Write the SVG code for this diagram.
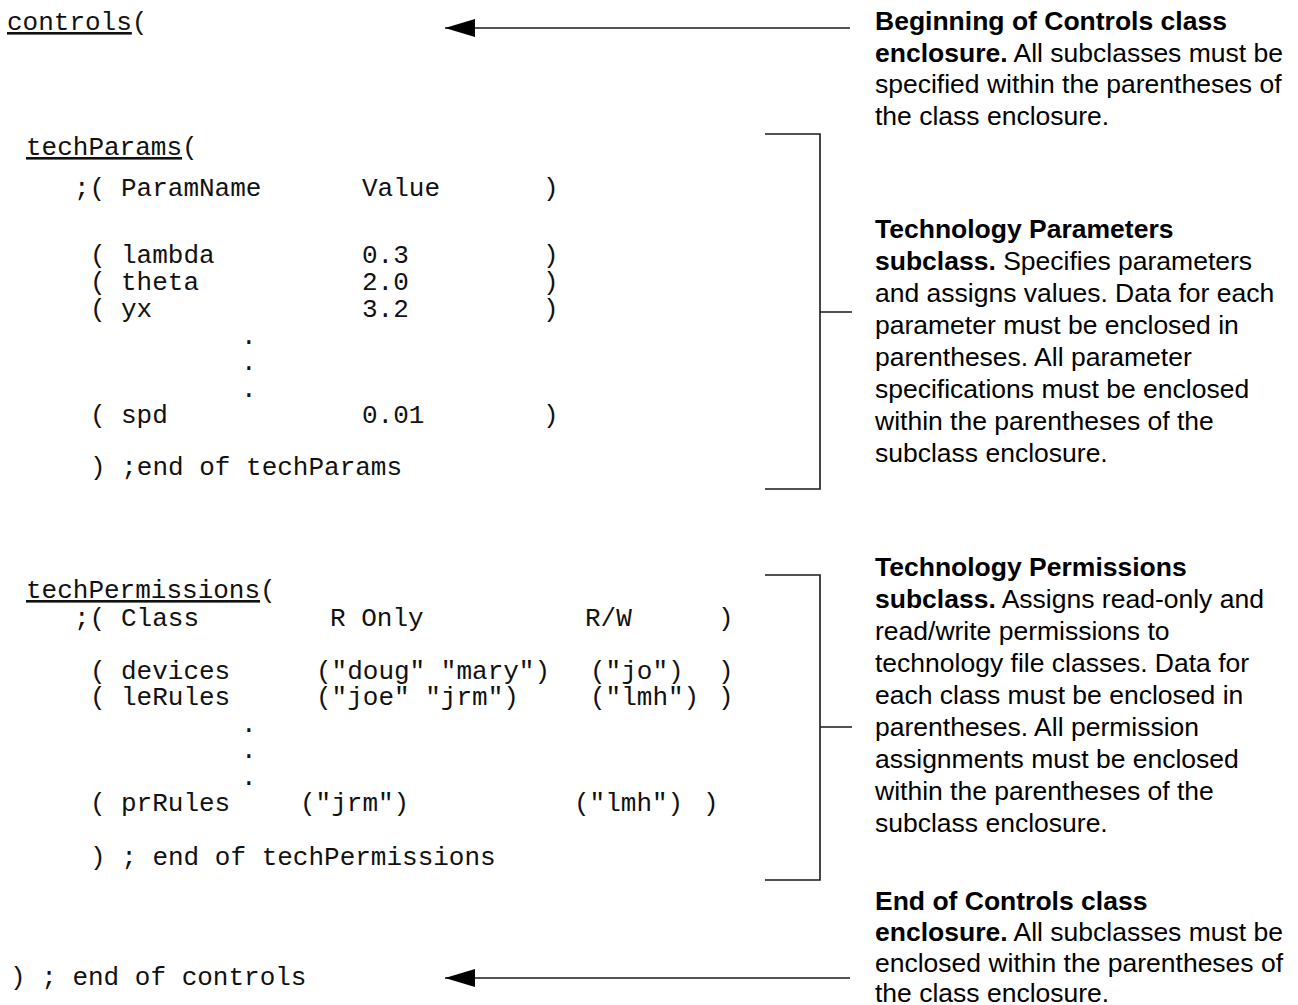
<svg xmlns="http://www.w3.org/2000/svg" width="1298" height="1005" viewBox="0 0 1298 1005">
  <style>
    .code { font-family: "Liberation Mono", "DejaVu Sans Mono", monospace; font-size: 26px; fill: #111; }
    .u { text-decoration: underline; }
    .note { font-family: "Liberation Sans", Arial, sans-serif; font-size: 26.5px; fill: #000; }
    .b { font-weight: bold; }
    .wire { stroke: #1a1a1a; stroke-width: 1.6; fill: none; }
  </style>
  <defs>
    <!-- filled triangular head; tip sits on the line end -->
    <marker id="head" markerUnits="userSpaceOnUse" markerWidth="32" markerHeight="20" refX="30" refY="9" orient="auto" viewBox="0 0 32 18">
      <path d="M0,0 L30,9 L0,18 Z" fill="#000"/>
    </marker>
  </defs>

  <!-- class enclosure: opening line -->
  <g id="controls-open">
    <text class="code" x="7" y="30"><tspan class="u">controls</tspan>(</text>
  </g>

  <!-- techParams subclass -->
  <g id="techParams">
    <text class="code" x="26" y="155"><tspan class="u">techParams</tspan>(</text>
    <text class="code" y="196"><tspan x="74">;(</tspan><tspan x="121">ParamName</tspan><tspan x="362">Value</tspan><tspan x="543">)</tspan></text>
    <text class="code" y="263"><tspan x="90">(</tspan><tspan x="121">lambda</tspan><tspan x="362">0.3</tspan><tspan x="543">)</tspan></text>
    <text class="code" y="290"><tspan x="90">(</tspan><tspan x="121">theta</tspan><tspan x="362">2.0</tspan><tspan x="543">)</tspan></text>
    <text class="code" y="317"><tspan x="90">(</tspan><tspan x="121">yx</tspan><tspan x="362">3.2</tspan><tspan x="543">)</tspan></text>
    <text class="code" x="241" y="344">.</text>
    <text class="code" x="241" y="370">.</text>
    <text class="code" x="241" y="397">.</text>
    <text class="code" y="423"><tspan x="90">(</tspan><tspan x="121">spd</tspan><tspan x="362">0.01</tspan><tspan x="543">)</tspan></text>
    <text class="code" x="90" y="475">) ;end of techParams</text>
  </g>

  <!-- techPermissions subclass -->
  <g id="techPermissions">
    <text class="code" x="26" y="598"><tspan class="u">techPermissions</tspan>(</text>
    <text class="code" y="626"><tspan x="74">;(</tspan><tspan x="121">Class</tspan><tspan x="330">R Only</tspan><tspan x="585">R/W</tspan><tspan x="718">)</tspan></text>
    <text class="code" y="679"><tspan x="90">(</tspan><tspan x="121">devices</tspan><tspan x="316">("doug" "mary")</tspan><tspan x="590">("jo")</tspan><tspan x="718">)</tspan></text>
    <text class="code" y="705"><tspan x="90">(</tspan><tspan x="121">leRules</tspan><tspan x="316">("joe" "jrm")</tspan><tspan x="590">("lmh")</tspan><tspan x="718">)</tspan></text>
    <text class="code" x="241" y="732">.</text>
    <text class="code" x="241" y="758">.</text>
    <text class="code" x="241" y="785">.</text>
    <text class="code" y="811"><tspan x="90">(</tspan><tspan x="121">prRules</tspan><tspan x="300">("jrm")</tspan><tspan x="574">("lmh")</tspan><tspan x="703">)</tspan></text>
    <text class="code" x="90" y="865">) ; end of techPermissions</text>
  </g>

  <!-- class enclosure: closing line -->
  <g id="controls-close">
    <text class="code" x="10" y="985">) ; end of controls</text>
  </g>

  <!-- explanatory notes -->
  <g id="note-begin">
    <text class="note" x="875" y="30"><tspan class="b">Beginning of Controls class</tspan></text>
    <text class="note" x="875" y="61.5"><tspan class="b">enclosure.</tspan> All subclasses must be</text>
    <text class="note" x="875" y="93">specified within the parentheses of</text>
    <text class="note" x="875" y="124.5">the class enclosure.</text>
  </g>

  <g id="note-params">
    <text class="note" x="875" y="238"><tspan class="b">Technology Parameters</tspan></text>
    <text class="note" x="875" y="270"><tspan class="b">subclass.</tspan> Specifies parameters</text>
    <text class="note" x="875" y="302">and assigns values. Data for each</text>
    <text class="note" x="875" y="334">parameter must be enclosed in</text>
    <text class="note" x="875" y="366">parentheses. All parameter</text>
    <text class="note" x="875" y="398">specifications must be enclosed</text>
    <text class="note" x="875" y="430">within the parentheses of the</text>
    <text class="note" x="875" y="462">subclass enclosure.</text>
  </g>

  <g id="note-permissions">
    <text class="note" x="875" y="576"><tspan class="b">Technology Permissions</tspan></text>
    <text class="note" x="875" y="608"><tspan class="b">subclass.</tspan> Assigns read-only and</text>
    <text class="note" x="875" y="640">read/write permissions to</text>
    <text class="note" x="875" y="672">technology file classes. Data for</text>
    <text class="note" x="875" y="704">each class must be enclosed in</text>
    <text class="note" x="875" y="736">parentheses. All permission</text>
    <text class="note" x="875" y="768">assignments must be enclosed</text>
    <text class="note" x="875" y="800">within the parentheses of the</text>
    <text class="note" x="875" y="832">subclass enclosure.</text>
  </g>

  <g id="note-end">
    <text class="note" x="875" y="910"><tspan class="b">End of Controls class</tspan></text>
    <text class="note" x="875" y="941"><tspan class="b">enclosure.</tspan> All subclasses must be</text>
    <text class="note" x="875" y="972">enclosed within the parentheses of</text>
    <text class="note" x="875" y="1002">the class enclosure.</text>
  </g>

  <!-- arrows and brackets -->
  <g id="connectors">
    <line class="wire" x1="850" y1="28" x2="445" y2="28" marker-end="url(#head)"/>
    <line class="wire" x1="850" y1="978" x2="445" y2="978" marker-end="url(#head)"/>
    <path class="wire" d="M765,134 H820 V489 H765 M820,312 H852"/>
    <path class="wire" d="M765,575 H820 V880 H765 M820,727 H852"/>
  </g>
</svg>
